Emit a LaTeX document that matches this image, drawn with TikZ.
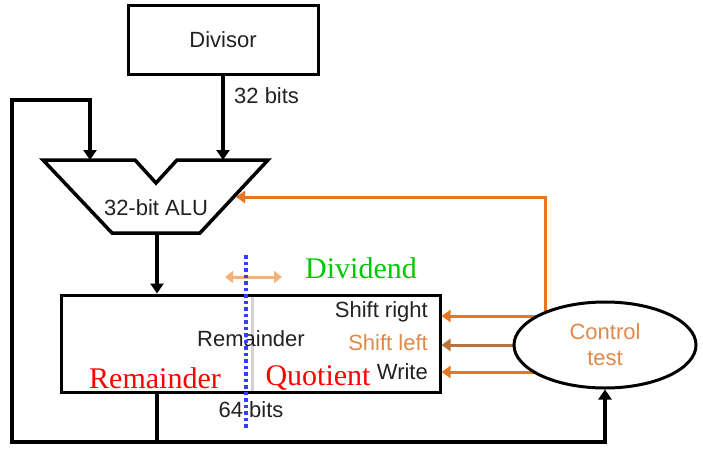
\documentclass[tikz,border=0pt]{standalone}
\usepackage{fontspec}
\setmainfont{Liberation Sans}
\newfontfamily\serifa{Liberation Serif}
\usetikzlibrary{arrows.meta,shapes.geometric,backgrounds,calc}
\definecolor{orng}{HTML}{E8761E}
\definecolor{brn}{HTML}{B8733C}
\definecolor{lorng}{HTML}{F2B27A}
\definecolor{torng}{HTML}{E0894A}
\definecolor{grn}{HTML}{00C800}
\definecolor{txt}{HTML}{222222}
\definecolor{blu}{HTML}{3040FF}
\begin{document}
\begin{tikzpicture}[x=1pt,y=-1pt,
 box/.style={draw=black,line width=3pt,fill=white,inner sep=0pt},
 lbl/.style={text=txt,font=\fontsize{22}{26}\selectfont,inner sep=0pt},
 big/.style={font=\serifa\fontsize{30}{34}\selectfont,inner sep=0pt},
 bline/.style={line width=4pt},
 barr/.style={bline,-{Triangle[length=10pt,width=13pt]}},
 oarr/.style={line width=3pt,draw=orng,-{Triangle[length=9pt,width=12pt]}},
]
\useasboundingbox (0,0) rectangle (703,452);

% boxes
\node[box,minimum width=190pt,minimum height=68pt,lbl] (divisor) at (223,40) {Divisor};
\draw[line width=3.5pt,fill=white,line join=miter]
  (43,160) coordinate (alutl) -- (135,160) -- (156,183) -- (177,160) -- (268,160) coordinate (alutr)
  -- (200,233) -- (112,233) -- cycle;
\node[lbl] (alu) at (156,208) {32-bit ALU};
\coordinate (aluinL) at (90,160);
\coordinate (aluinR) at (223,160);
\coordinate (aluout) at (157,233);
\coordinate (aluR) at (236,197);

\node[box,minimum width=379pt,minimum height=97pt] (reg) at (250.5,343.5) {};
\node[ellipse,draw=black,line width=3pt,fill=white,minimum width=182pt,minimum height=86pt,
      inner sep=0pt,align=center,text=torng,font=\fontsize{22}{26}\selectfont] (ctrl) at (605,345) {Control\\test};

% gray separator and labels in register
\draw[gray!35,line width=3pt] (252,296.5) -- (252,390.5);
\node[lbl] (rem) at (251,339) {Remainder};
\node[lbl,anchor=east] (sr) at (428,312) {Shift right};
\node[lbl,anchor=east,text=torng] (sl) at (428,343) {Shift left};
\node[lbl,anchor=east] (wr) at (428,372) {Write};
\node[lbl] (bits64) at (251,410) {64 bits};
\node[lbl,anchor=west] (bits32) at (234,96) {32 bits};

% black connectors
\draw[barr] (divisor.south) -- (aluinR);
\draw[barr] (aluout) -- (aluout |- reg.north);
\coordinate (regout) at (157,392);
\coordinate (bjoin) at (157,442);
\draw[barr] (regout) -- (bjoin) -- (12,442) -- (12,100) -- (90,100) -- (aluinL);
\draw[barr] (bjoin) -- (ctrl.south |- bjoin) -- (ctrl.south);

% orange connectors (behind the ellipse)
\begin{scope}[on background layer]
\fill[white] (0,0) rectangle (703,452);
\coordinate (srsrc) at (560,316);
\coordinate (wrsrc) at (560,372);
\coordinate (upc) at (545,316);
\draw[oarr] (srsrc) -- (reg.east |- srsrc);
\draw[oarr] (wrsrc) -- (reg.east |- wrsrc);
\draw[oarr,draw=brn,-{Triangle[length=9pt,width=12pt]}] (ctrl.center) -- (reg.east |- ctrl.center);
\draw[oarr,line join=miter] (upc) -- (545,197) -- (aluR);
\end{scope}

% overlays
\draw[lorng,line width=3pt,{Triangle[length=8pt,width=12pt]}-{Triangle[length=8pt,width=12pt]}] (225,277) coordinate (dl) -- (282,277) coordinate (dr);
\draw[blu,line width=4pt,dash pattern=on 3.5pt off 3pt] (246,255) coordinate (bt) -- (246,430) coordinate (bb);
\node[big,text=grn] (dividend) at (361,268) {Dividend};
\node[big,text=red] (remr) at (155,378) {Remainder};
\node[big,text=red] (quot) at (318,378) {Quotient};
\end{tikzpicture}
\end{document}
